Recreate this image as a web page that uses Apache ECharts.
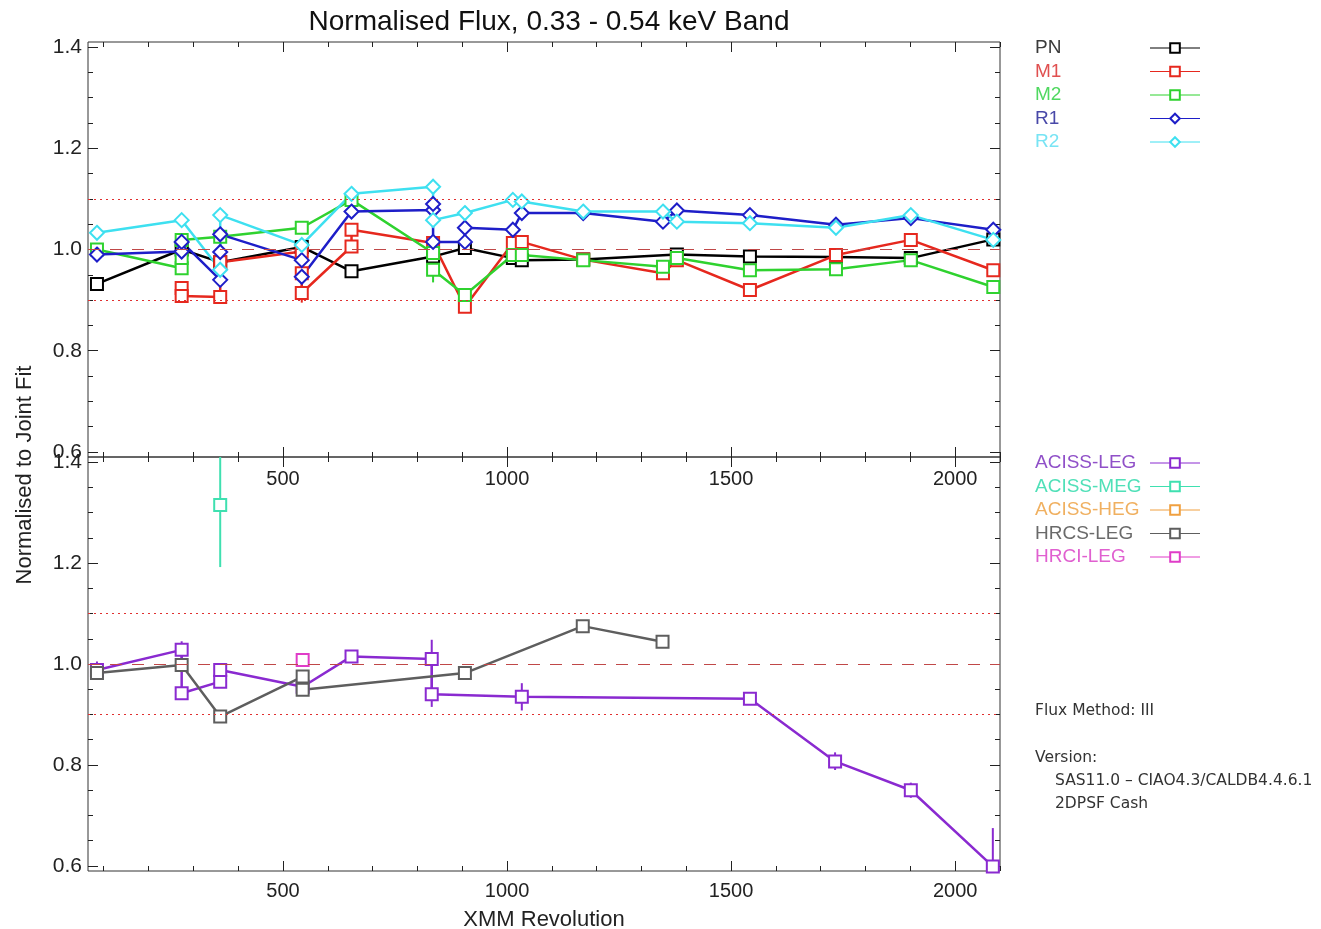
<!DOCTYPE html>
<html>
<head>
<meta charset="utf-8">
<script src="https://cdn.jsdelivr.net/npm/echarts@6/dist/echarts.min.js"></script>
<style>
  html, body { margin: 0; padding: 0; background: #fff; }
  #chart { width: 1321px; height: 929px; }
</style>
</head>
<body>
<div id="chart"></div>
<script>
// ---- data: [revolution, normalised flux] ----
var pn = [[85, 0.932], [274, 1.0], [360, 0.975], [542, 1.005], [653, 0.957], [835, 0.986], [906, 1.003],
  [1013, 0.983], [1033, 0.979], [1170, 0.98], [1379, 0.99], [1542, 0.986], [1734, 0.985], [1901, 0.983], [2085, 1.02]];
var m1 = [[274, 0.924], [274, 0.908], [360, 0.906], [360, 0.975], [542, 0.996], [542, 0.953], [542, 0.914],
  [653, 1.006], [653, 1.039], [835, 1.013], [906, 0.887], [1013, 1.013], [1033, 1.015], [1170, 0.98],
  [1348, 0.953], [1379, 0.979], [1542, 0.92], [1734, 0.989], [1901, 1.019], [2085, 0.959]];
var m2 = [[85, 1.0], [274, 0.963], [274, 0.983], [274, 1.019], [360, 1.025], [542, 1.043], [653, 1.098],
  [835, 0.993], [835, 0.96], [906, 0.91], [1013, 0.989], [1033, 0.989], [1170, 0.979], [1348, 0.966],
  [1379, 0.983], [1542, 0.959], [1734, 0.961], [1901, 0.979], [2085, 0.926]];
var r1 = [[85, 0.99], [274, 0.996], [274, 1.015], [360, 0.94], [360, 0.995], [360, 1.03], [542, 0.979],
  [542, 0.946], [653, 1.075], [835, 1.078], [835, 1.09], [835, 1.015], [906, 1.015], [906, 1.043],
  [1013, 1.039], [1033, 1.072], [1170, 1.072], [1348, 1.055], [1379, 1.077], [1542, 1.068], [1734, 1.049],
  [1901, 1.062], [2085, 1.039]];
var r2 = [[85, 1.033], [274, 1.058], [360, 0.96], [360, 1.068], [542, 1.009], [653, 1.11], [835, 1.124],
  [835, 1.058], [906, 1.072], [1013, 1.098], [1033, 1.095], [1170, 1.075], [1348, 1.075], [1379, 1.055],
  [1542, 1.052], [1734, 1.043], [1901, 1.068], [2085, 1.019]];

var acissLeg = [[85, 0.988], [274, 1.028], [274, 0.942], [360, 0.965], [360, 0.988], [544, 0.955], [653, 1.015],
  [832, 1.01], [832, 0.94], [1033, 0.935], [1542, 0.931], [1732, 0.807], [1901, 0.75], [2084, 0.599]];
var acissMeg = [[360, 1.315]];
var acissHeg = [];
var hrcsLeg = [[85, 0.982], [274, 0.998], [360, 0.896], [544, 0.975], [544, 0.949], [906, 0.982],
  [1169, 1.075], [1347, 1.044]];
var hrciLeg = [[544, 1.008]];

// error bars: [revolution, low, high]
var m1Err = [[542, 0.895, 0.93], [274, 0.9, 0.93]];
var m2Err = [[835, 0.935, 0.985]];
var legErr = [[85, 0.97, 1.005], [274, 1.012, 1.045], [832, 0.915, 1.048], [1033, 0.908, 0.962],
  [1542, 0.92, 0.943], [1732, 0.79, 0.825], [1901, 0.735, 0.765], [2084, 0.59, 0.675]];
var megErr = [[360, 1.192, 1.45]];
var hrciErr = [[544, 0.995, 1.02]];

// axis ticks
var xMajor = [500, 1000, 1500, 2000];
var xMinor = [100, 200, 300, 400, 500, 600, 700, 800, 900, 1000, 1100, 1200, 1300, 1400, 1500,
  1600, 1700, 1800, 1900, 2000, 2100];
var yMajor = [0.6, 0.8, 1.0, 1.2, 1.4];
var yMinor = [0.6, 0.65, 0.7, 0.75, 0.8, 0.85, 0.9, 0.95, 1.0, 1.05, 1.1, 1.15, 1.2, 1.25, 1.3, 1.35, 1.4];
var dottedLines = [1.1, 0.9];
var dashedLines = [1.0];

var FONT = "Liberation Sans";
var X_MIN = 65, X_MAX = 2100, Y_MIN = 0.59, Y_MAX = 1.41;

function xAx(grid, pos, ticks, len, labels) {
  return {
    type: "value", gridIndex: grid, position: pos, min: X_MIN, max: X_MAX,
    axisLine: { show: false }, splitLine: { show: false },
    axisTick: { show: true, inside: true, length: len, customValues: ticks, lineStyle: { color: "#222" } },
    axisLabel: labels
      ? { show: true, customValues: labels, fontFamily: FONT, fontSize: 20, color: "#222", margin: grid === 0 ? 12 : 10,
          formatter: function (v) { return String(v); } }
      : { show: false }
  };
}
function yAx(grid, pos, ticks, len, labels) {
  return {
    type: "value", gridIndex: grid, position: pos, min: Y_MIN, max: Y_MAX,
    axisLine: { show: false }, splitLine: { show: false },
    axisTick: { show: true, inside: true, length: len, customValues: ticks, lineStyle: { color: "#222" } },
    axisLabel: labels
      ? { show: true, customValues: labels, fontFamily: FONT, fontSize: 21, color: "#222", margin: 6,
          formatter: function (v) { return v.toFixed(1); } }
      : { show: false }
  };
}

var xAxes = [xAx(0, "bottom", xMajor, 10, xMajor), xAx(1, "bottom", xMajor, 10, xMajor)];
xAxes[1].name = "XMM Revolution";
xAxes[1].nameLocation = "middle";
xAxes[1].nameGap = 38;
xAxes[1].nameTextStyle = { fontFamily: FONT, fontSize: 22, color: "#222" };
[0, 1].forEach(function (g) {
  xAxes.push(xAx(g, "bottom", xMinor, 5));
  xAxes.push(xAx(g, "top", xMajor, 10));
  xAxes.push(xAx(g, "top", xMinor, 5));
});
var yAxes = [yAx(0, "left", yMajor, 10, yMajor), yAx(1, "left", yMajor, 10, yMajor)];
[0, 1].forEach(function (g) {
  yAxes.push(yAx(g, "left", yMinor, 5));
  yAxes.push(yAx(g, "right", yMajor, 10));
  yAxes.push(yAx(g, "right", yMinor, 5));
});

var C = {
  PN: "#000000", M1: "#e6281e", M2: "#2fd22f", R1: "#1e1ec8", R2: "#3ee0f0",
  "ACISS-LEG": "#8a2ad0", "ACISS-MEG": "#3fe0b0", "ACISS-HEG": "#f0a040",
  "HRCS-LEG": "#5e5e5e", "HRCI-LEG": "#e03cc8"
};
// legend labels are drawn a bit lighter in the original
var LC = {
  PN: "#3a3a3a", M1: "#e05050", M2: "#50d860", R1: "#4848a8", R2: "#78e4f4",
  "ACISS-LEG": "#9050c8", "ACISS-MEG": "#50e0b8", "ACISS-HEG": "#f0b060",
  "HRCS-LEG": "#6a6a6a", "HRCI-LEG": "#e060d0"
};

function refMark(values, style) {
  return {
    silent: true, symbol: ["none", "none"], label: { show: false },
    lineStyle: style, emphasis: { disabled: true },
    data: values.map(function (v) { return { yAxis: v }; })
  };
}
var dotStyle = { color: "#e03030", type: [2, 4], width: 1.2, opacity: 1 };
var dashStyle = { color: "#c04848", type: [12, 10], width: 1.2, opacity: 1 };

function line(name, data, grid, symbol, size) {
  return {
    name: name, type: "line", data: data, xAxisIndex: grid, yAxisIndex: grid,
    symbol: symbol, symbolSize: size, showAllSymbol: true, animation: false,
    lineStyle: { color: C[name], width: 2.5 },
    itemStyle: { color: C[name], borderWidth: 2 },
    emphasis: { disabled: true }
  };
}

function errs(name, data, grid) {
  return {
    name: name + " err", type: "custom", data: data, xAxisIndex: grid, yAxisIndex: grid,
    clip: true, animation: false, silent: true,
    renderItem: function (params, api) {
      var a = api.coord([api.value(0), api.value(1)]);
      var b = api.coord([api.value(0), api.value(2)]);
      return { type: "line", shape: { x1: a[0], y1: a[1], x2: b[0], y2: b[1] },
        style: { stroke: C[name], lineWidth: 2 } };
    }
  };
}

var series = [
  line("PN", pn, 0, "emptyRect", 12),
  line("M1", m1, 0, "emptyRect", 12),
  line("M2", m2, 0, "emptyRect", 12),
  line("R1", r1, 0, "emptyDiamond", 14),
  line("R2", r2, 0, "emptyDiamond", 14),
  errs("M1", m1Err, 0),
  errs("M2", m2Err, 0),
  line("ACISS-LEG", acissLeg, 1, "emptyRect", 12),
  line("ACISS-MEG", acissMeg, 1, "emptyRect", 12),
  line("ACISS-HEG", acissHeg, 1, "emptyRect", 12),
  line("HRCS-LEG", hrcsLeg, 1, "emptyRect", 12),
  line("HRCI-LEG", hrciLeg, 1, "emptyRect", 12),
  errs("ACISS-LEG", legErr, 1),
  errs("ACISS-MEG", megErr, 1),
  errs("HRCI-LEG", hrciErr, 1)
];
series[0].markLine = refMark(dottedLines, dotStyle);
series[1].markLine = refMark(dashedLines, dashStyle);
series[7].markLine = refMark(dottedLines, dotStyle);
series[10].markLine = refMark(dashedLines, dashStyle);

function legend(names, top) {
  return {
    orient: "vertical", left: 1030, top: top, align: "right",
    itemWidth: 50, itemHeight: 12, itemGap: 3.5, selectedMode: false,
    lineStyle: { width: 1 },
    formatter: function (n) { return "{a|" + n + "}"; },
    textStyle: { fontFamily: FONT, fontSize: 19, lineHeight: 20,
      rich: { a: { width: 110, align: "left", fontFamily: FONT, fontSize: 19 } } },
    data: names.map(function (n) { return { name: n, textStyle: { color: LC[n] } }; })
  };
}

var NOTE = "15.5px 'DejaVu Sans'";

var chart = echarts.init(document.getElementById("chart"), null, { renderer: "canvas" });
chart.setOption({
  backgroundColor: "#fff",
  animation: false,
  title: {
    text: "Normalised Flux, 0.33 - 0.54 keV Band", left: 544, top: 3, textAlign: "center",
    textStyle: { fontFamily: FONT, fontSize: 28, fontWeight: "normal", color: "#111" }
  },
  grid: [
    { left: 88, top: 42, width: 912, height: 415, show: true, borderColor: "#333", borderWidth: 1,
      backgroundColor: "transparent", outerBoundsMode: "none", containLabel: false },
    { left: 88, top: 457, width: 912, height: 414, show: true, borderColor: "#333", borderWidth: 1,
      backgroundColor: "transparent", outerBoundsMode: "none", containLabel: false }
  ],
  legend: [
    legend(["PN", "M1", "M2", "R1", "R2"], 33),
    legend(["ACISS-LEG", "ACISS-MEG", "ACISS-HEG", "HRCS-LEG", "HRCI-LEG"], 448)
  ],
  xAxis: xAxes,
  yAxis: yAxes,
  series: series,
  graphic: [
    { type: "text", x: 25, y: 475, rotation: Math.PI / 2,
      style: { text: "Normalised to Joint Fit", font: "22px " + FONT, fill: "#222", align: "center", verticalAlign: "middle" } },
    { type: "text", x: 1035, y: 711, style: { text: "Flux Method: III", font: NOTE, fill: "#333", verticalAlign: "middle" } },
    { type: "text", x: 1035, y: 758, style: { text: "Version:", font: NOTE, fill: "#333", verticalAlign: "middle" } },
    { type: "text", x: 1055, y: 781, style: { text: "SAS11.0 \u2013 CIAO4.3/CALDB4.4.6.1", font: NOTE, fill: "#333", verticalAlign: "middle" } },
    { type: "text", x: 1055, y: 804, style: { text: "2DPSF Cash", font: NOTE, fill: "#333", verticalAlign: "middle" } }
  ]
});
</script>
</body>
</html>
